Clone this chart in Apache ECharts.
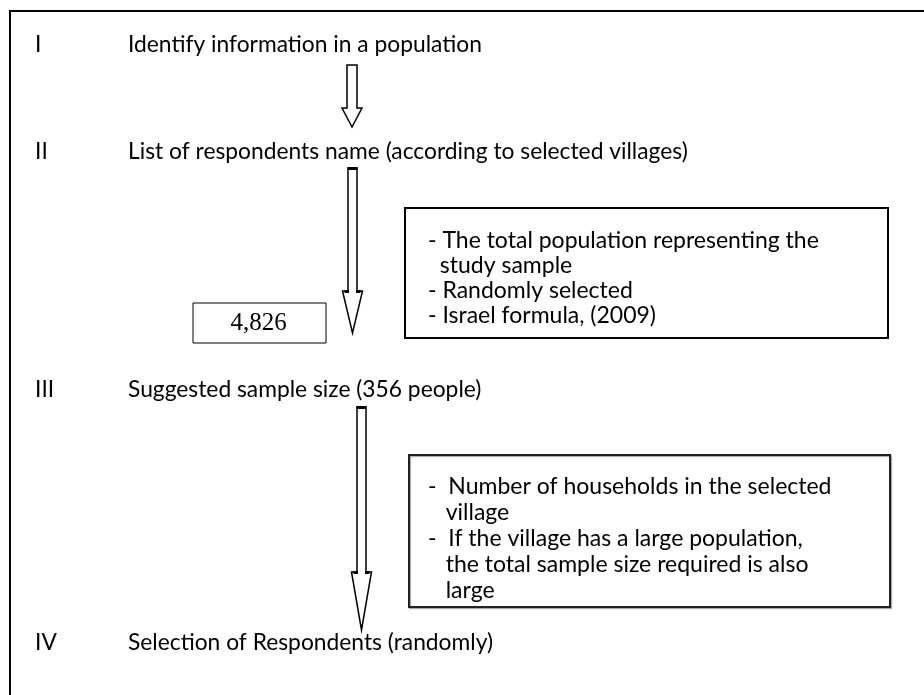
<!DOCTYPE html>
<html>
<head>
<meta charset="utf-8">
<script src="https://cdn.jsdelivr.net/npm/echarts@6/dist/echarts.min.js"></script>
<style>
html,body{margin:0;padding:0;background:#fff;}
#chart{width:924px;height:695px;}
</style>
</head>
<body>
<div id="chart"></div>
<script>
// ---- content ----
const stageLabels = ['I', 'II', 'III', 'IV'];
const stageTexts = [
  'Identify information in a population',
  'List of respondents name (according to selected villages)',
  'Suggested sample size (356 people)',
  'Selection of Respondents (randomly)'
];
const populationCount = '4,826';
const noteLines1 = [
  '- The total population representing the',
  '  study sample',
  '- Randomly selected',
  '- Israel formula, (2009)'
];
const noteLines2 = [
  '-  Number of households in the selected',
  '   village',
  '-  If the village has a large population,',
  '   the total sample size required is also',
  '   large'
];

// ---- layout ----
const FONT = 'Lato, "Open Sans", sans-serif';
const FS = 22.8;
const FSN = 23;
const stageY = [45, 152, 390, 643];
const elements = [];

// outer frame
elements.push({type:'rect', shape:{x:10, y:11, width:1000, height:1000},
  style:{fill:'none', stroke:'#000', lineWidth:2}});

stageLabels.forEach((lab, i) => {
  elements.push({type:'text', x:35, y:stageY[i],
    style:{text:lab, font: FS + 'px ' + FONT, fill:'#000', verticalAlign:'middle', align:'left'}});
  elements.push({type:'text', x:128, y:stageY[i],
    style:{text:stageTexts[i], font: FS + 'px ' + FONT, fill:'#000', verticalAlign:'middle', align:'left'}});
});

function arrow(cx, w, y0, yb, yt, hw, cap) {
  const l = cx - w/2, r = cx + w/2;
  elements.push({type:'polygon', shape:{points:[[l,y0],[r,y0],[r,yb],[cx+hw,yb],[cx,yt],[cx-hw,yb],[l,yb]]},
    style:{fill:'#fff', stroke:'#000', lineWidth:1.5, lineJoin:'miter'}});
  if (cap) {
    elements.push({type:'rect', shape:{x:l-0.5, y:y0-1, width:w+1, height:3}, style:{fill:'#000'}});
    elements.push({type:'rect', shape:{x:cx-hw+2, y:yb-1, width:hw-w/2-1, height:3}, style:{fill:'#000'}});
    elements.push({type:'rect', shape:{x:r-1, y:yb-1, width:hw-w/2-1, height:3}, style:{fill:'#000'}});
  }
}
arrow(352, 10, 65, 108, 127, 10, false);
arrow(352.5, 9, 168, 291, 333, 10, true);
arrow(361.5, 9, 407, 572, 630, 10, true);

// 4,826 box
elements.push({type:'rect', shape:{x:193, y:303, width:133, height:40},
  style:{fill:'#fff', stroke:'#000', lineWidth:1}});
elements.push({type:'text', x:258.5, y:323,
  style:{text:populationCount, font:'25px "Liberation Serif", "DejaVu Serif", serif', fill:'#000', align:'center', verticalAlign:'middle'}});

// note box 1
elements.push({type:'rect', shape:{x:405, y:208, width:483, height:130},
  style:{fill:'#fff', stroke:'#000', lineWidth:2}});
noteLines1.forEach((t, i) => {
  elements.push({type:'text', x:428, y:241 + i*25,
    style:{text:t, font: FSN + 'px ' + FONT, fill:'#000', verticalAlign:'middle', align:'left'}});
});

// note box 2
elements.push({type:'rect', shape:{x:409, y:455, width:481, height:152},
  style:{fill:'#fff', stroke:'#222', lineWidth:2, shadowColor:'rgba(0,0,0,0.35)', shadowOffsetX:1, shadowOffsetY:1, shadowBlur:1}});
noteLines2.forEach((t, i) => {
  elements.push({type:'text', x:428, y:487 + i*25.8,
    style:{text:t, font: FSN + 'px ' + FONT, fill:'#000', verticalAlign:'middle', align:'left'}});
});

const chart = echarts.init(document.getElementById('chart'));
chart.setOption({
  animation:false,
  backgroundColor:'#fff',
  graphic:{elements}
});
</script>
</body>
</html>
